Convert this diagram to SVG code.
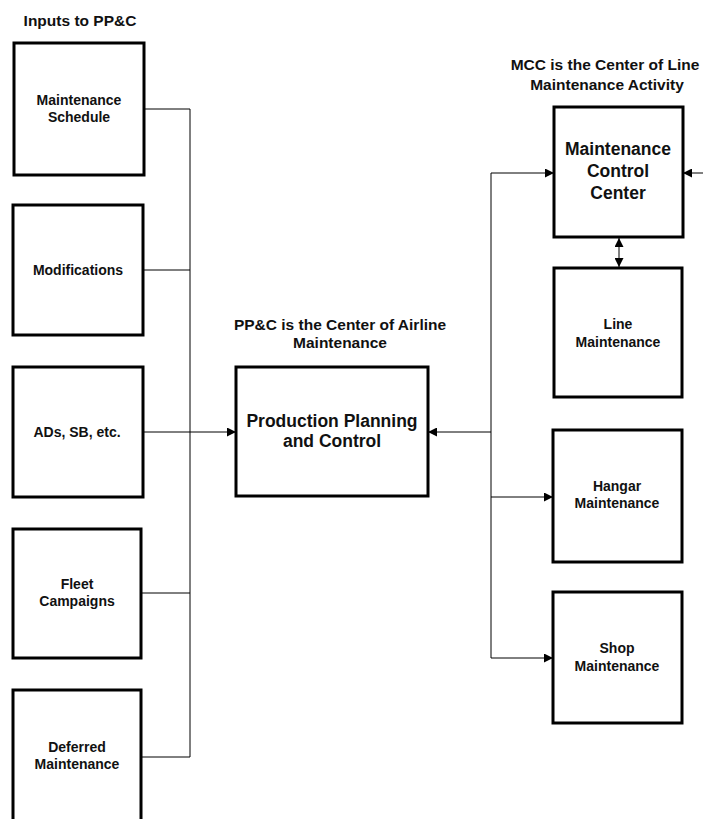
<svg xmlns="http://www.w3.org/2000/svg" width="703" height="819" viewBox="0 0 703 819">
  <style>
    .box { fill: #fff; stroke: #000; stroke-width: 3; }
    .wire { fill: none; stroke: #000; stroke-width: 1; }
    text { font-family: "Liberation Sans", Arial, sans-serif; fill: #111; text-anchor: middle; font-weight: bold; }
    .sm { font-size: 14px; }
    .lg { font-size: 17.5px; }
    .title { font-size: 15.5px; }
  </style>
  <defs>
    <marker id="arrow" viewBox="0 0 10 10" refX="10" refY="5" markerWidth="9" markerHeight="9" markerUnits="userSpaceOnUse" orient="auto-start-reverse">
      <path d="M0,0 L10,5 L0,10 z" fill="#000"/>
    </marker>
  </defs>

  <rect width="703" height="819" fill="#fff"/>

  <!-- headings -->
  <text class="title" x="80" y="26">Inputs to PP&amp;C</text>
  <text class="title" x="340" y="330">PP&amp;C is the Center of Airline</text>
  <text class="title" x="340" y="348">Maintenance</text>
  <text class="title" x="605" y="70" font-size="15px">MCC is the Center of Line</text>
  <text class="title" x="607" y="90">Maintenance Activity</text>

  <!-- connectors -->
  <g id="connectors">
    <!-- input bus on the left -->
    <path class="wire" d="M144,109 H190 V757 H141"/>
    <path class="wire" d="M143,270 H190"/>
    <path class="wire" d="M141,593 H190"/>
    <path class="wire" d="M143,432 H236" marker-end="url(#arrow)"/>
    <!-- output bus on the right -->
    <path class="wire" d="M491,432 H428" marker-end="url(#arrow)"/>
    <path class="wire" d="M491,173 V658"/>
    <path class="wire" d="M491,173 H554" marker-end="url(#arrow)"/>
    <path class="wire" d="M491,497 H553" marker-end="url(#arrow)"/>
    <path class="wire" d="M491,658 H553" marker-end="url(#arrow)"/>
    <path class="wire" d="M703,173 H683" marker-end="url(#arrow)"/>
    <path class="wire" d="M619,238 V267" marker-start="url(#arrow)" marker-end="url(#arrow)"/>
  </g>

  <!-- input nodes -->
  <g id="maintenance-schedule">
    <rect class="box" x="14" y="43" width="130" height="132"/>
    <text class="sm" x="79" y="105">Maintenance</text>
    <text class="sm" x="79" y="122">Schedule</text>
  </g>
  <g id="modifications">
    <rect class="box" x="13" y="205" width="130" height="130"/>
    <text class="sm" x="78" y="275">Modifications</text>
  </g>
  <g id="ads-sb">
    <rect class="box" x="13" y="367" width="130" height="130"/>
    <text class="sm" x="77" y="437">ADs, SB, etc.</text>
  </g>
  <g id="fleet-campaigns">
    <rect class="box" x="13" y="529" width="128" height="129"/>
    <text class="sm" x="77" y="589">Fleet</text>
    <text class="sm" x="77" y="606">Campaigns</text>
  </g>
  <g id="deferred-maintenance">
    <rect class="box" x="13" y="690" width="128" height="140"/>
    <text class="sm" x="77" y="752">Deferred</text>
    <text class="sm" x="77" y="769">Maintenance</text>
  </g>

  <!-- central node -->
  <g id="ppc">
    <rect class="box" x="236" y="367" width="192" height="129"/>
    <text class="lg" x="332" y="427">Production Planning</text>
    <text class="lg" x="332" y="447">and Control</text>
  </g>

  <!-- maintenance nodes -->
  <g id="mcc">
    <rect class="box" x="554" y="107" width="129" height="130"/>
    <text class="lg" x="618" y="155">Maintenance</text>
    <text class="lg" x="618" y="177">Control</text>
    <text class="lg" x="618" y="199">Center</text>
  </g>
  <g id="line-maintenance">
    <rect class="box" x="554" y="268" width="128" height="129"/>
    <text class="sm" x="618" y="329">Line</text>
    <text class="sm" x="618" y="347">Maintenance</text>
  </g>
  <g id="hangar-maintenance">
    <rect class="box" x="553" y="430" width="129" height="132"/>
    <text class="sm" x="617" y="491">Hangar</text>
    <text class="sm" x="617" y="508">Maintenance</text>
  </g>
  <g id="shop-maintenance">
    <rect class="box" x="553" y="592" width="129" height="131"/>
    <text class="sm" x="617" y="653">Shop</text>
    <text class="sm" x="617" y="671">Maintenance</text>
  </g>
</svg>
